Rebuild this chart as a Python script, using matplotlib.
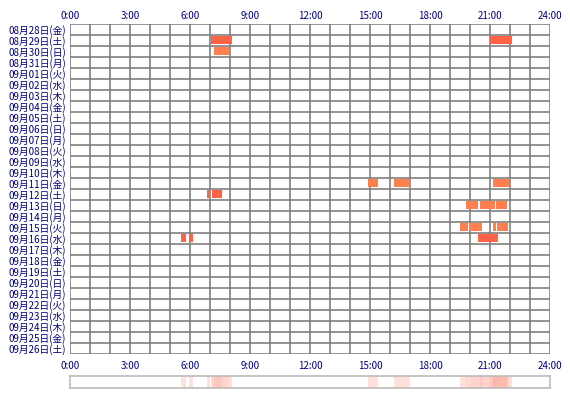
import matplotlib
matplotlib.use('Agg')
import matplotlib.pyplot as plt
import numpy as np
from matplotlib.colors import to_rgb

plt.rcParams['font.family'] = ['Noto Sans CJK JP', 'DejaVu Sans']

day_labels = [
    '08月28日(金)', '08月29日(土)', '08月30日(日)', '08月31日(月)',
    '09月01日(火)', '09月02日(水)', '09月03日(木)', '09月04日(金)',
    '09月05日(土)', '09月06日(日)', '09月07日(月)', '09月08日(火)',
    '09月09日(水)', '09月10日(木)', '09月11日(金)', '09月12日(土)',
    '09月13日(日)', '09月14日(月)', '09月15日(火)', '09月16日(水)',
    '09月17日(木)', '09月18日(金)', '09月19日(土)', '09月20日(日)',
    '09月21日(月)', '09月22日(火)', '09月23日(水)', '09月24日(木)',
    '09月25日(金)', '09月26日(土)',
]
hour_ticks = [0, 3, 6, 9, 12, 15, 18, 21, 24]
hour_labels = ['0:00', '3:00', '6:00', '9:00', '12:00', '15:00', '18:00', '21:00', '24:00']

# sessions: row index, start hour, end hour, kind
bar_day = [1, 1, 2, 14, 14, 14, 15, 15, 16, 16, 16, 18, 18, 18, 18, 19, 19, 19]
bar_start = [7.03, 21.0, 7.2, 14.9, 16.2, 21.15, 6.85, 7.1, 19.8, 20.5, 21.3,
             19.5, 19.97, 21.17, 21.35, 5.55, 5.95, 20.4]
bar_end = [8.12, 22.1, 7.95, 15.4, 17.0, 21.95, 7.0, 7.6, 20.38, 21.25, 21.83,
           19.88, 20.58, 21.28, 21.88, 5.8, 6.13, 21.38]
bar_kind = ['a', 'a', 'b', 'b', 'b', 'b', 'a', 'a', 'b', 'b', 'b',
            'b', 'b', 'b', 'b', 'a', 'a', 'a']

kind_colors = {'a': '#FF6347', 'b': '#FF7F50'}
grid_color = '#808080'
text_color = '#000080'
fs = 7

W, H = 570, 400
fig = plt.figure(figsize=(W / 100, H / 100), dpi=100)
fig.patch.set_facecolor('white')

ax = fig.add_axes([70 / W, 1 - 354 / H, 480 / W, 330 / H])
n = len(day_labels)
ax.set_xlim(0, 24)
ax.set_ylim(n, 0)
ax.vlines(np.arange(0, 25), 0, n, color=grid_color, lw=1.2, zorder=1)
ax.hlines(np.arange(0, n + 1), 0, 24, color=grid_color, lw=1.2, zorder=1)

for d, s, e, k in zip(bar_day, bar_start, bar_end, bar_kind):
    ax.barh(d + 0.45, e - s, left=s, height=0.74, color=kind_colors[k],
            linewidth=0, zorder=2)

for sp in ax.spines.values():
    sp.set_visible(False)

ax.set_xticks(hour_ticks)
ax.set_xticklabels(hour_labels)
ax.tick_params(axis='x', top=False, labeltop=False, bottom=True, labelbottom=True,
               length=0, pad=5, labelsize=fs, labelcolor=text_color)
sec = ax.secondary_xaxis('top')
sec.set_xticks(hour_ticks)
sec.set_xticklabels(hour_labels)
sec.tick_params(axis='x', length=0, pad=2.5, labelsize=fs, labelcolor=text_color)
for sp in sec.spines.values():
    sp.set_visible(False)

ax.set_yticks(np.arange(n) + 0.5)
ax.set_yticklabels(day_labels)
ax.tick_params(axis='y', length=0, pad=3, labelsize=fs, labelcolor=text_color)

# summary strip
ax2 = fig.add_axes([70 / W, 12 / H, 480 / W, 12 / H])
t = (np.arange(1440) + 0.5) / 60.0
counts = np.zeros_like(t)
for s, e in zip(bar_start, bar_end):
    counts += (t >= s) & (t < e)
alpha = np.where(counts > 0, 0.19 + 0.08 * (counts - 1), 0.0)
base = np.array(to_rgb('#FF6347'))
rgb = 1 - alpha[:, None] * (1 - base[None, :])
ax2.imshow(rgb[None, :, :], extent=[0, 24, 0, 1], aspect='auto', interpolation='nearest')
ax2.set_xlim(0, 24)
ax2.set_ylim(0, 1)
ax2.set_xticks([])
ax2.set_yticks([])
for sp in ax2.spines.values():
    sp.set_color('#BBBBBB')
    sp.set_linewidth(1.2)

fig.savefig('out.png', dpi=100)
